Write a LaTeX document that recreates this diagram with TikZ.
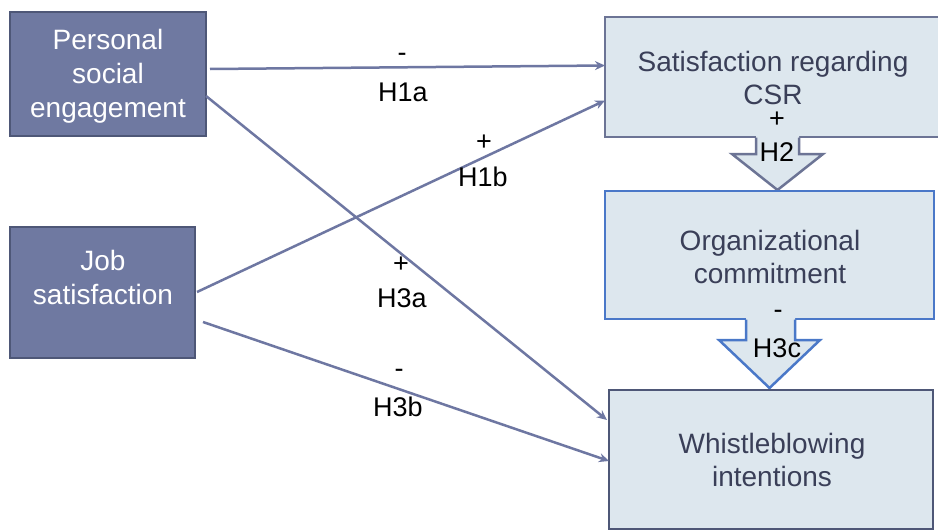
\documentclass[tikz,border=0pt]{standalone}
\usepackage{fontspec}
\setmainfont{Liberation Sans}
\usetikzlibrary{arrows.meta}
\definecolor{darkfill}{HTML}{6F79A1}
\definecolor{darkedge}{HTML}{4E5777}
\definecolor{lightfill}{HTML}{DDE7EE}
\definecolor{grayedge}{HTML}{6C7495}
\definecolor{blueedge}{HTML}{4A78C8}
\definecolor{linecol}{HTML}{6E77A2}
\definecolor{boxtext}{HTML}{3A3F58}
\begin{document}
\begin{tikzpicture}[x=1pt,y=-1pt,
  darkbox/.style={draw=darkedge,fill=darkfill,line width=2.5pt,inner sep=0pt,rectangle},
  lightbox/.style={draw=grayedge,fill=lightfill,line width=2.5pt,inner sep=0pt,rectangle},
  bluebox/.style={draw=blueedge,fill=lightfill,line width=2.5pt,inner sep=0pt,rectangle},
  whitetext/.style={text=white,align=center,font=\fontsize{28}{34}\selectfont,inner sep=0pt},
  darktext/.style={text=boxtext,align=center,font=\fontsize{28}{33}\selectfont,inner sep=0pt},
  lbl/.style={text=black,align=center,font=\fontsize{27}{33}\selectfont,inner sep=0pt},
  conn/.style={draw=linecol,line width=2.5pt,-{Stealth[length=10pt,width=9pt]}}
]
\useasboundingbox (0,0) rectangle (938,530);
\fill[white] (0,0) rectangle (938,530);

% left boxes
\node[darkbox,minimum width=196pt,minimum height=124pt] (pse) at (108,74) {};
\node[whitetext] (pset) at (108,76) {Personal\\social\\engagement};
\node[darkbox,minimum width=185pt,minimum height=131pt] (js) at (102.5,292.5) {};
\node[whitetext] (jst) at (103,277) {Job\\satisfaction};

% satisfaction box
\node[lightbox,minimum width=336pt,minimum height=120pt] (sat) at (773,77) {};
% H2 block arrow
\fill[lightfill] (756,134) -- (756,154) -- (732,154) -- (777.5,190) -- (823,154) -- (799,154) -- (799,134) -- cycle;
\draw[grayedge,line width=2.5pt,line join=miter] (756,137.5) -- (756,154) -- (732,154) -- (777.5,190) -- (823,154) -- (799,154) -- (799,137.5);
% org box
\node[bluebox,minimum width=329pt,minimum height=128pt] (org) at (769.5,255) {};
% H3c block arrow
\fill[lightfill] (746,316) -- (746,340) -- (719,340) -- (769.5,388) -- (820,340) -- (795,340) -- (795,316) -- cycle;
\draw[blueedge,line width=2.5pt,line join=miter] (746,319.5) -- (746,340) -- (719,340) -- (769.5,388) -- (820,340) -- (795,340) -- (795,319.5);
% whistle box
\node[lightbox,draw=darkedge,minimum width=324pt,minimum height=139pt] (wb) at (771,459.5) {};

% box texts
\node[darktext] (satt) at (773,78) {Satisfaction regarding\\CSR};
\node[darktext] (orgt) at (770,257) {Organizational\\commitment};
\node[darktext] (wbt) at (772,460) {Whistleblowing\\intentions};

% connectors
\coordinate (a1) at (210,69);
\coordinate (a2) at (605,65.5);
\coordinate (b1) at (206,96);
\coordinate (b2) at (607,420);
\coordinate (c1) at (197,292);
\coordinate (c2) at (605,100.5);
\coordinate (d1) at (203,322);
\coordinate (d2) at (609,461);
\draw[conn] (a1) -- (a2);
\draw[conn] (b1) -- (b2);
\draw[conn] (c1) -- (c2);
\draw[conn] (d1) -- (d2);

% labels
\node[lbl] (l1s) at (402,57) {-};
\node[lbl] (l1) at (403,92) {H1a};
\node[lbl] (l2s) at (484,143) {+};
\node[lbl] (l2) at (483,177) {H1b};
\node[lbl] (l3s) at (401,265) {+};
\node[lbl] (l3) at (402,298) {H3a};
\node[lbl] (l4s) at (399,373) {-};
\node[lbl] (l4) at (398,407) {H3b};
\node[lbl] (l5s) at (777,119.5) {+};
\node[lbl] (l5) at (777,152) {H2};
\node[lbl] (l6s) at (778,314) {-};
\node[lbl] (l6) at (777,348) {H3c};
\end{tikzpicture}
\end{document}
